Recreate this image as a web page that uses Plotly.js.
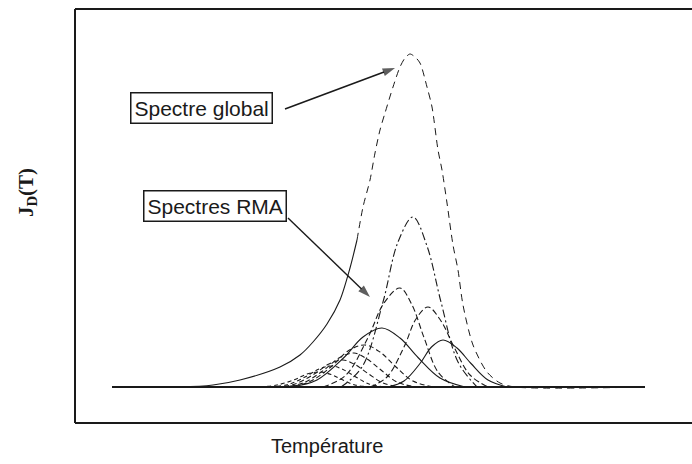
<!DOCTYPE html>
<html>
<head>
<meta charset="utf-8">
<script src="https://cdn.plot.ly/plotly-3.0.1.min.js"></script>
<style>
  html, body { margin: 0; padding: 0; background: #fff; overflow: hidden; }
  #chart { width: 692px; height: 464px; }
</style>
</head>
<body>
<div id="chart"></div>
<script>
// Temperature (arbitrary units) and J_D(T) (arbitrary units)
const baseT = [37, 570];
const baseJ = [0, 0];

const globalT = [37, 105, 138, 165, 205, 225, 238, 252, 265, 275, 282, 288, 295, 300, 305, 310, 318, 325, 330, 335, 340, 345, 352, 357, 363, 367, 372, 378, 383, 388, 398, 412, 425, 440, 570];
const globalJ = [0, 0, 2, 7, 20, 32, 45, 63, 87, 119, 147, 180, 207, 234, 257, 274, 300, 320, 329, 333, 330, 324, 300, 280, 237, 217, 184, 142, 117, 82, 42, 15, 4, 0, 0];

// RMA elementary spectra
const rma1T = [185, 202, 220, 232, 245, 256, 267, 280, 296];
const rma1J = [0, 2, 7.5, 13, 15, 12.5, 7.5, 2, 0];
const rma2T = [195, 213, 231, 244, 257, 268, 280, 294, 310];
const rma2J = [0, 2.5, 10.5, 18, 21, 17.5, 10.5, 3, 0];
const rma3T = [201, 220, 240, 254, 268, 280, 293, 308, 325];
const rma3J = [0, 3, 13.5, 23, 27, 22.5, 13.5, 4, 0];
const rma4T = [207, 228, 249, 264, 279, 292, 306, 322, 341];
const rma4J = [0, 4, 17, 29, 34, 28, 17, 5, 0];
const rma5T = [211, 234, 257, 273, 290, 305, 320, 338, 359];
const rma5J = [0, 5, 21, 36, 42, 35, 21, 6, 0];
const rma6T = [216, 242, 269, 288, 307, 325, 343, 365, 390];
const rma6J = [0, 7, 29.5, 50, 59, 49, 29.5, 9, 0];
const rma7T = [248, 271, 293, 309, 325, 337, 349, 363, 380];
const rma7J = [0, 12, 49.5, 84, 99, 82, 49.5, 15, 0];
const rma8T = [266, 287, 308, 323, 338, 352, 366, 383, 402];
const rma8J = [0, 20, 85, 145, 170, 141, 85, 25, 0];
const rma9T = [295, 312, 329, 341, 353, 366, 379, 395, 413];
const rma9J = [0, 10, 40, 68, 80, 66, 40, 12, 0];
const rma10T = [313, 329, 345, 356.5, 368, 382, 396, 413, 432];
const rma10J = [0, 6, 23.5, 40, 47, 39, 23.5, 7, 0];

// arrows (tail, tip) pointing from the labels to the curves
const arrowGlobalT = [210, 320];
const arrowGlobalJ = [278, 319];
const arrowRmaT = [213, 295];
const arrowRmaJ = [169, 90];

const rmaT = [rma1T, rma2T, rma3T, rma4T, rma5T, rma6T, rma7T, rma8T, rma9T, rma10T];
const rmaJ = [rma1J, rma2J, rma3J, rma4J, rma5J, rma6J, rma7J, rma8J, rma9J, rma10J];
const rmaDash = ['4px,3px', '4px,3px', '5px,3px', '5px,3px', '5px,3px', 'solid', '6px,3px', '8px,3px,2px,3px', '6px,3px', 'solid'];

const ink = '#1a1a1a';
const traces = [];

traces.push({x: baseT, y: baseJ, mode: 'lines', line: {color: ink, width: 1.8}, hoverinfo: 'skip', showlegend: false});

rmaT.forEach((t, i) => {
  traces.push({
    x: t, y: rmaJ[i], mode: 'lines',
    line: {color: ink, width: 1.1, shape: 'spline', smoothing: 1, dash: rmaDash[i]},
    showlegend: false
  });
});

// global spectrum: solid lower rise, dashed upper part
const split = 10;
traces.push({
  x: globalT.slice(0, split + 1), y: globalJ.slice(0, split + 1), mode: 'lines',
  line: {color: ink, width: 1.1, shape: 'spline', smoothing: 0.8}, showlegend: false
});
traces.push({
  x: globalT.slice(split), y: globalJ.slice(split), mode: 'lines',
  line: {color: ink, width: 1.0, shape: 'spline', smoothing: 0.8, dash: '7px,5px'}, showlegend: false
});

// arrows as line + arrow-head marker
[[arrowGlobalT, arrowGlobalJ, 1.6], [arrowRmaT, arrowRmaJ, 1.4]].forEach(([t, j, w]) => {
  traces.push({
    x: t, y: j, mode: 'lines+markers',
    line: {color: ink, width: w},
    marker: {symbol: ['circle', 'arrow'], size: [0, 13], angleref: 'previous', color: ink, line: {width: 0}},
    showlegend: false, hoverinfo: 'skip'
  });
});

const layout = {
  width: 692, height: 464,
  margin: {l: 75, r: 0, t: 9, b: 41},
  paper_bgcolor: '#fff', plot_bgcolor: '#fff',
  showlegend: false,
  xaxis: {range: [0, 617], showgrid: false, zeroline: false, showticklabels: false, ticks: '', showline: false},
  yaxis: {range: [-36, 378], showgrid: false, zeroline: false, showticklabels: false, ticks: '', showline: false},
  shapes: [
    {type: 'line', xref: 'paper', yref: 'paper', x0: 0, x1: 1, y0: 1, y1: 1, line: {color: ink, width: 2}},
    {type: 'line', xref: 'paper', yref: 'paper', x0: 0, x1: 1, y0: 0, y1: 0, line: {color: ink, width: 2}},
    {type: 'line', xref: 'paper', yref: 'paper', x0: 0, x1: 0, y0: 0, y1: 1, line: {color: ink, width: 2}}
  ],
  annotations: [
    {text: 'Spectre global', x: 126, y: 279, xref: 'x', yref: 'y', showarrow: false,
     xanchor: 'center', yanchor: 'middle', font: {family: 'Liberation Sans, Arial, sans-serif', size: 21, color: ink},
     bordercolor: ink, borderwidth: 1.5, borderpad: 3, bgcolor: '#fff'},
    {text: 'Spectres RMA', x: 140, y: 181, xref: 'x', yref: 'y', showarrow: false,
     xanchor: 'center', yanchor: 'middle', font: {family: 'Liberation Sans, Arial, sans-serif', size: 21, color: ink},
     bordercolor: ink, borderwidth: 1.5, borderpad: 3, bgcolor: '#fff'},
    {text: 'Température', xref: 'paper', yref: 'paper', x: (327 - 75) / 617, y: 0, yshift: -23,
     showarrow: false, xanchor: 'center', yanchor: 'middle',
     font: {family: 'Liberation Sans, Arial, sans-serif', size: 20, color: ink}},
    {text: '<b>J<sub>D</sub>(T)</b>', xref: 'paper', yref: 'paper', x: 0, xshift: -48, y: (423 - 193) / 414,
     showarrow: false, textangle: -90, xanchor: 'center', yanchor: 'middle',
     font: {family: 'Liberation Serif, Times New Roman, serif', size: 21, color: ink}}
  ]
};

Plotly.newPlot('chart', traces, layout, {displayModeBar: false, staticPlot: true});
</script>
</body>
</html>
